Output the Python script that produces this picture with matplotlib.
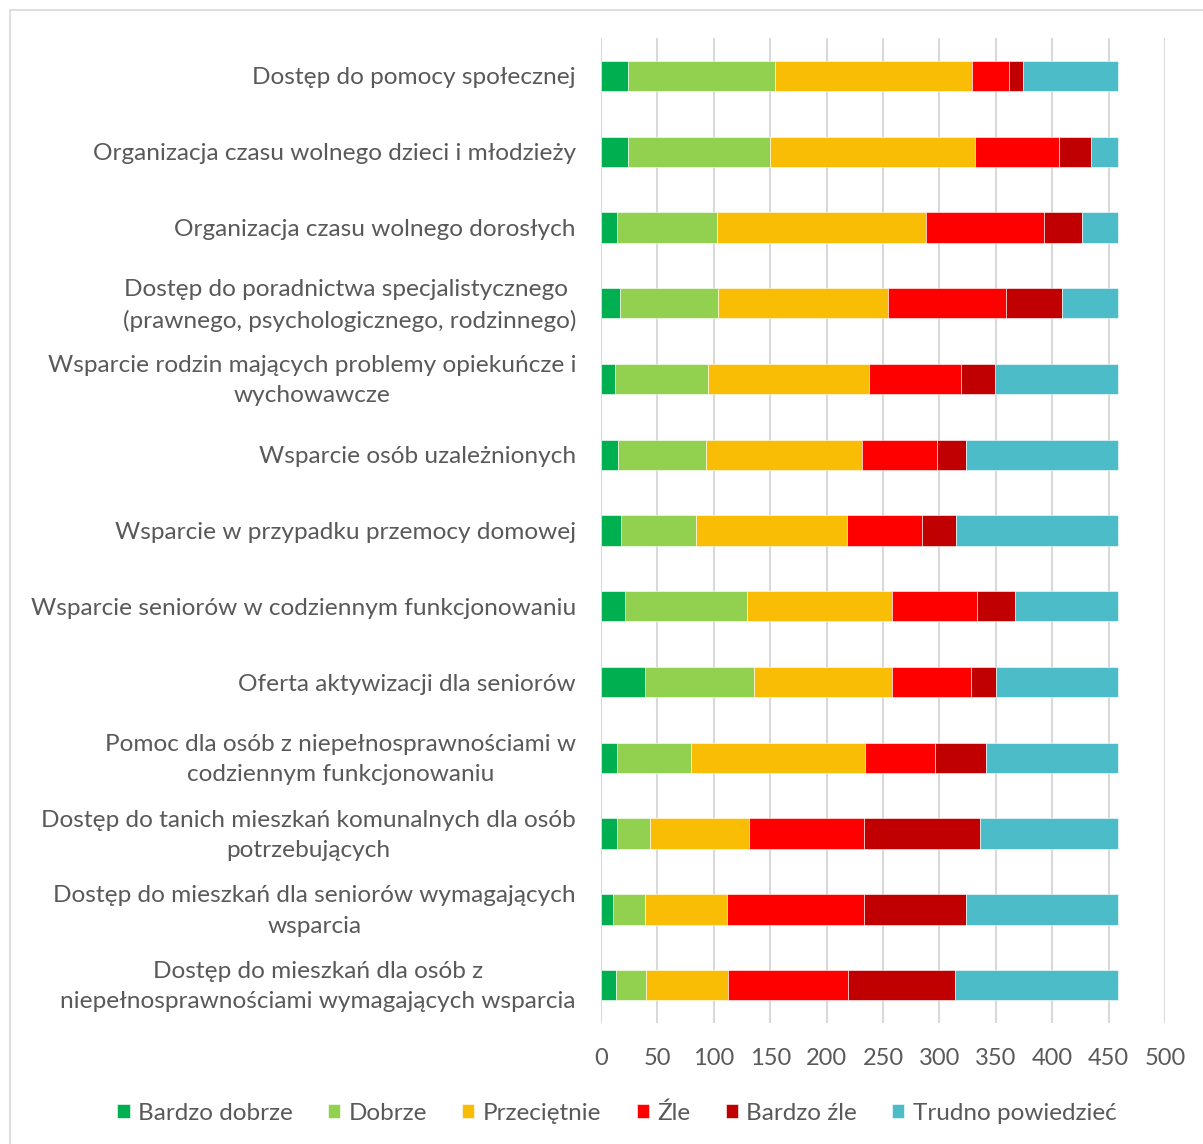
import matplotlib
matplotlib.use("Agg")
import matplotlib.pyplot as plt
import matplotlib.transforms as mtransforms
from matplotlib.patches import Rectangle
import numpy as np

categories = [
    "Dostęp do pomocy społecznej",
    "Organizacja czasu wolnego dzieci i młodzieży",
    "Organizacja czasu wolnego dorosłych",
    "Dostęp do poradnictwa specjalistycznego \n(prawnego, psychologicznego, rodzinnego)",
    "Wsparcie rodzin mających problemy opiekuńcze i\nwychowawcze",
    "Wsparcie osób uzależnionych",
    "Wsparcie w przypadku przemocy domowej",
    "Wsparcie seniorów w codziennym funkcjonowaniu",
    "Oferta aktywizacji dla seniorów",
    "Pomoc dla osób z niepełnosprawnościami w\ncodziennym funkcjonowaniu",
    "Dostęp do tanich mieszkań komunalnych dla osób\npotrzebujących",
    "Dostęp do mieszkań dla seniorów wymagających\nwsparcia",
    "Dostęp do mieszkań dla osób z\nniepełnosprawnościami wymagających wsparcia",
]

series_names = ["Bardzo dobrze", "Dobrze", "Przeciętnie", "Źle", "Bardzo źle", "Trudno powiedzieć"]

bardzo_dobrze = [24, 24, 14, 17, 12, 15, 18, 21, 39, 14, 14, 11, 13]
dobrze        = [130, 126, 89, 87, 83, 78, 66, 108, 97, 66, 29, 28, 27]
przecietnie   = [175, 182, 185, 150, 143, 138, 134, 129, 122, 154, 88, 73, 73]
zle           = [33, 74, 105, 105, 81, 67, 67, 75, 70, 62, 102, 121, 106]
bardzo_zle    = [12, 28, 33, 50, 30, 26, 30, 34, 22, 45, 103, 91, 95]
trudno        = [84, 24, 32, 49, 109, 134, 143, 91, 108, 117, 122, 134, 144]

colors = ["#00B050", "#92D050", "#FABD05", "#FF0000", "#C00000", "#4BBCC8"]

data = [bardzo_dobrze, dobrze, przecietnie, zle, bardzo_zle, trudno]

plt.rcParams['font.family'] = ['Lato', 'DejaVu Sans']

W, H = 1203, 1144
fig = plt.figure(figsize=(W / 100, H / 100), dpi=100)
ax = fig.add_axes([601 / W, 1 - 1023 / H, (1165 - 601) / W, (1023 - 38) / H])

y = np.arange(len(categories))
left = np.zeros(len(categories))
for name, vals, c in zip(series_names, data, colors):
    vals = np.array(vals, dtype=float)
    ax.barh(y, vals, left=left, height=0.4, color=c, label=name,
            edgecolor='white', linewidth=0.4, zorder=3)
    left += vals

ax.set_ylim(len(categories) - 0.5, -0.5)
ax.set_xlim(0, 500)
ax.set_xticks(np.arange(0, 501, 50))
ax.set_yticks(y)
ax.set_yticklabels([])

base = ax.get_yaxis_transform()
for yi, lab in zip(y, categories):
    dy = 5 / 100 if "\n" in lab else 0
    tr = base + mtransforms.ScaledTranslation(-25 / 100, dy, fig.dpi_scale_trans)
    ax.text(0, yi, lab, transform=tr, ha='right', va='center_baseline',
            multialignment='center', fontsize=17.6, color='#595959', linespacing=1.55)

ax.tick_params(axis='x', labelsize=17, labelcolor='#595959', length=0, pad=18)
ax.tick_params(axis='y', length=0)
ax.grid(axis='x', color='#D9D9D9', linewidth=1.5, zorder=0)
for s in ax.spines.values():
    s.set_visible(False)

leg = fig.legend(loc='center', bbox_to_anchor=(617 / W, 1 - 1113 / H), ncol=6,
                 frameon=False, fontsize=17.5, handlelength=0.5, handleheight=0.55,
                 handletextpad=0.35, columnspacing=1.45)
for t in leg.get_texts():
    t.set_color('#595959')

fig.patches.append(Rectangle((10 / W, -0.01), 1.1, 1 - 10 / H + 0.01, transform=fig.transFigure,
                             fill=False, edgecolor='#D9D9D9', linewidth=1.2))

fig.savefig("out.png", dpi=100, facecolor='white')
